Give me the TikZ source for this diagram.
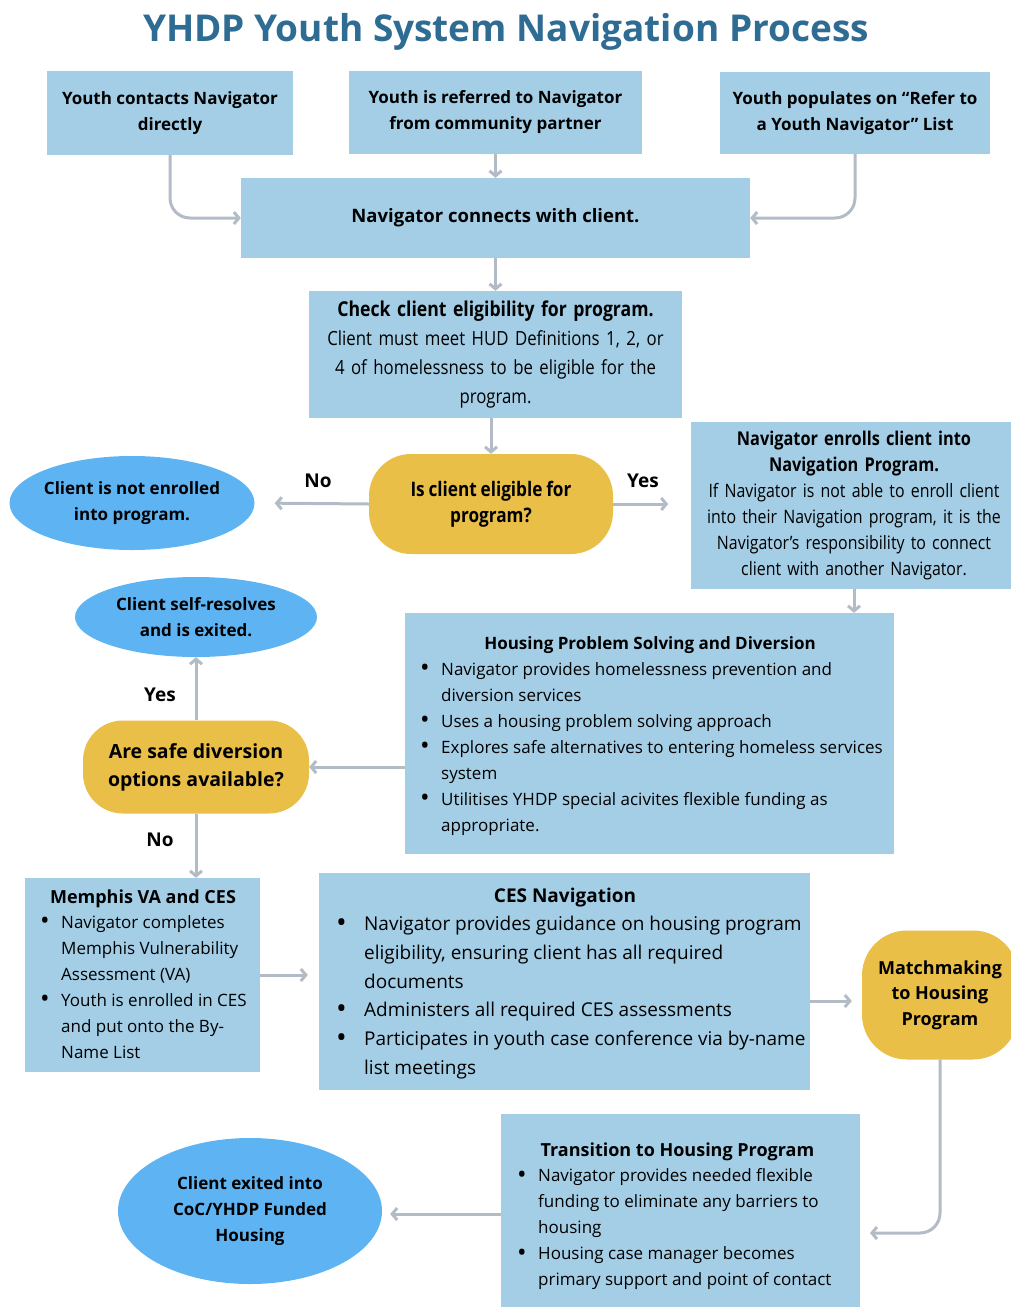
\documentclass[tikz,border=0pt]{standalone}
\usepackage{fontspec}
\setmainfont{Open Sans}
\newfontfamily\narrowfont[FakeStretch=0.86,WordSpace=0.85]{Open Sans}
\usepackage{xcolor}
\usepackage{tikz}
\usetikzlibrary{arrows.meta,shapes.geometric,calc}

\definecolor{boxblue}{HTML}{A3CEE6}
\definecolor{ovalblue}{HTML}{5EB3F2}
\definecolor{askyellow}{HTML}{EABF47}
\definecolor{titleblue}{HTML}{2F6C94}
\definecolor{linegray}{HTML}{B3BCC6}

\newcommand{\bitem}[1][21pt]{\makebox[#1][l]{\raisebox{-1.8pt}{\scalebox{1.5}{\textbullet}}}}
\newcommand{\bgap}[1][21pt]{\hspace*{#1}}

\begin{document}
\begin{tikzpicture}[x=1pt,y=-1pt,
  box/.style={fill=boxblue,inner sep=0pt,align=center,font=\fontsize{17}{26}\selectfont\bfseries},
  oval/.style={ellipse,fill=ovalblue,inner sep=0pt,inner xsep=-8pt,align=center,font=\fontsize{17}{26}\selectfont\bfseries},
  ask/.style={fill=askyellow,inner sep=0pt,align=center,rounded corners=42pt},
  bullets/.style={anchor=north west,inner sep=0pt,align=left},
  flow/.style={draw=linegray,line width=3pt,-{Straight Barb[length=5pt,width=12pt]}},
  ans/.style={font=\fontsize{19}{22}\selectfont\bfseries}]

\useasboundingbox (0,0) rectangle (1010,1307);

% title
\node[font=\fontsize{37}{40}\selectfont\bfseries,text=titleblue] (title) at (506,32) {YHDP Youth System Navigation Process};

% entry points
\node[box,minimum width=246,minimum height=84] (youth) at (170,113) {Youth contacts Navigator\\directly};
\node[box,minimum width=293,minimum height=83] (refer) at (495.5,112.5) {Youth is referred to Navigator\\from community partner};
\node[box,minimum width=270,minimum height=82] (list) at (855,113) {Youth populates on “Refer to\\a Youth Navigator” List};
\node[box,minimum width=509,minimum height=80,font=\fontsize{18.5}{26}\selectfont\bfseries] (connect) at (495.5,218) {Navigator connects with client.};

% eligibility
\node[box,text width=373,minimum height=127,font=\fontsize{19.5}{29}\selectfont\narrowfont] (check) at (495.5,354.5)
  {{\fontsize{20.5}{29}\selectfont\bfseries Check client eligibility for program.}\\Client must meet HUD Definitions 1, 2, or\\4 of homelessness to be eligible for the\\program.};
\node[ask,minimum width=244,minimum height=100,font=\fontsize{20}{26}\selectfont\narrowfont\bfseries] (elig) at (491,504) {Is client eligible for\\program?};
\node[oval,minimum width=245,minimum height=94] (notin) at (132,503) {Client is not enrolled\\into program.};
\node[box,text width=326,minimum height=167,font=\fontsize{18.5}{26}\selectfont\narrowfont] (enroll) at (854,505)
  {{\fontsize{19}{26}\selectfont\bfseries Navigator enrolls client into}\\{\fontsize{19}{26}\selectfont\bfseries Navigation Program.}\\If Navigator is not able to enroll client\\into their Navigation program, it is the\\Navigator’s responsibility to connect\\client with another Navigator.};

% diversion
\node[box,minimum width=489,minimum height=241] (divert) at (649.5,733.5) {};
\node[font=\fontsize{17}{20}\selectfont\bfseries] (diverthead) at (650,645) {Housing Problem Solving and Diversion};
\node[bullets,font=\fontsize{17}{26}\selectfont] (divertlist) at (420,662)
  {\bitem Navigator provides homelessness prevention and\\
   \bgap diversion services\\
   \bitem Uses a housing problem solving approach\\
   \bitem Explores safe alternatives to entering homeless services\\
   \bgap system\\
   \bitem Utilitises YHDP special acivites flexible funding as\\
   \bgap appropriate.};
\node[ask,minimum width=226,minimum height=93,rounded corners=40pt,font=\fontsize{19.5}{28}\selectfont\bfseries] (safe) at (196,767) {Are safe diversion\\options available?};
\node[oval,minimum width=242,minimum height=80] (selfres) at (196,617) {Client self-resolves\\and is exited.};

% CES
\node[box,minimum width=235,minimum height=194] (memphis) at (142.5,975) {};
\node[font=\fontsize{18}{20}\selectfont\bfseries] (memphishead) at (143,899) {Memphis VA and CES};
\node[bullets,font=\fontsize{17}{26}\selectfont] (memphislist) at (40,915)
  {\bitem Navigator completes\\
   \bgap Memphis Vulnerability\\
   \bgap Assessment (VA)\\
   \bitem Youth is enrolled in CES\\
   \bgap and put onto the By-\\
   \bgap Name List};
\node[box,minimum width=491,minimum height=217] (cesnav) at (564.5,981.5) {};
\node[font=\fontsize{19}{22}\selectfont\bfseries] (cesnavhead) at (565,898) {CES Navigation};
\node[bullets,font=\fontsize{19}{28.7}\selectfont] (cesnavlist) at (336,916)
  {\bitem[23pt] Navigator provides guidance on housing program\\
   \bgap[23pt] eligibility, ensuring client has all required\\
   \bgap[23pt] documents\\
   \bitem[23pt] Administers all required CES assessments\\
   \bitem[23pt] Participates in youth case conference via by-name\\
   \bgap[23pt] list meetings};
\node[ask,minimum width=156,minimum height=129,rounded corners=45pt,font=\fontsize{18}{25.5}\selectfont\bfseries] (match) at (940,995) {Matchmaking\\to Housing\\Program};

% transition
\node[box,minimum width=359,minimum height=200] (transit) at (680.5,1214) {};
\node[anchor=west,font=\fontsize{18}{20}\selectfont\bfseries] (transithead) at (537,1152) {Transition to Housing Program};
\node[bullets,font=\fontsize{17}{26}\selectfont] (transitlist) at (517,1168)
  {\bitem Navigator provides needed flexible\\
   \bgap funding to eliminate any barriers to\\
   \bgap housing\\
   \bitem Housing case manager becomes\\
   \bgap primary support and point of contact};
\node[oval,minimum width=264,minimum height=146] (exited) at (250,1211) {Client exited into\\CoC/YHDP Funded\\Housing};
\coordinate (transin) at (870,1233);

% connectors
\draw[flow,rounded corners=20pt] (youth.south) |- (connect.west);
\draw[flow] (refer.south) -- (connect.north);
\draw[flow,rounded corners=20pt] (list.south) |- (connect.east);
\draw[flow] (connect.south) -- (check.north);
\draw[flow] (elig.north |- check.south) -- (elig.north);
\draw[flow,shorten >=20pt] (elig.west) -- (notin.east);
\draw[flow] (elig.east) -- +(55,0);
\draw[flow] (enroll.south) -- (enroll.south |- divert.north);
\draw[flow] (safe.east -| divert.west) -- (safe.east);
\draw[flow] (safe.north) -- (selfres.south);
\draw[flow] (safe.south) -- (safe.south |- memphis.north);
\draw[flow,shorten >=11pt] (memphis.east) -- (memphis.east -| cesnav.west);
\draw[flow,shorten >=10pt] ([yshift=-6pt]match.west -| cesnav.east) -- ([yshift=-6pt]match.west);
\draw[flow,rounded corners=20pt] (match.south) |- (transin);
\draw[flow,shorten >=8pt] (transit.west) -- (transit.west -| exited.east);

% answers
\node[ans] (notlabel) at (318,481) {No};
\node[ans] (yeslabel) at (643,481) {Yes};
\node[ans] (safeyes) at (160,695) {Yes};
\node[ans] (safeno) at (160,840) {No};
\end{tikzpicture}
\end{document}
